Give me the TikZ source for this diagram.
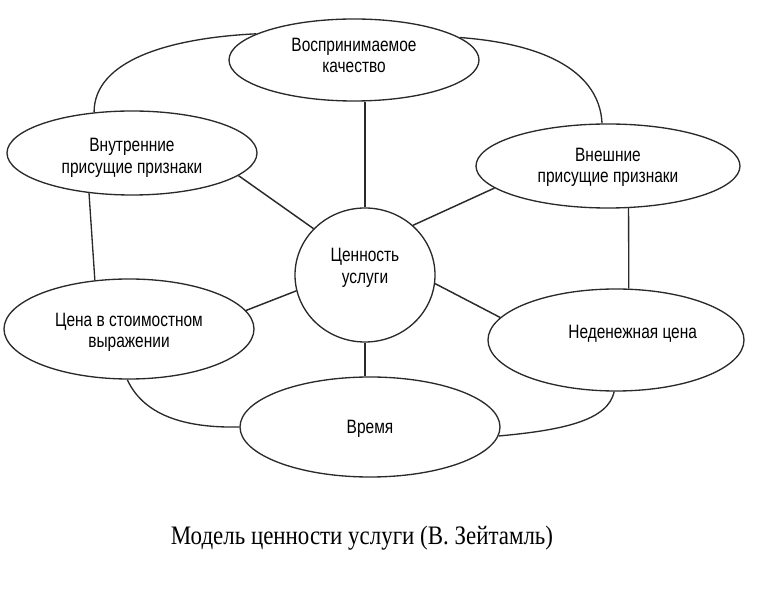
\documentclass[tikz,border=0pt]{standalone}
\usepackage{fontspec}
\setmainfont{Liberation Serif}[FakeStretch=0.86]
\newfontfamily\labelfont{Liberation Sans}[FakeStretch=0.8]
\usetikzlibrary{shapes.geometric}
\definecolor{ink}{HTML}{2A2A2A}
% raise the text inside an ellipse without resizing it
\newcommand{\lift}[2]{\raisebox{#1}[\height][\depth]{\begin{tabular}{@{}c@{}}#2\end{tabular}}}

\begin{document}
\begin{tikzpicture}[x=0.75pt,y=-0.75pt,
  bubble/.style={draw=ink,ellipse,line width=1pt,inner sep=0pt,align=center,
    font=\labelfont\fontsize{14.5}{16}\selectfont},
  spoke/.style={draw=ink,line width=1.1pt},
  ring/.style={draw=ink,line width=1pt},
]
  \useasboundingbox (0,0) rectangle (761,609);

  \node[bubble,minimum width=187.5pt,minimum height=61.5pt] (qual) at (354,60) {\lift{1.5pt}{Воспринимаемое\\качество}};
  \node[bubble,minimum width=187.5pt,minimum height=63pt] (inner) at (132,153) {\lift{-4pt}{Внутренние\\присущие признаки}};
  \node[bubble,minimum width=198pt,minimum height=63pt] (outer) at (608,166) {\lift{-1.5pt}{Внешние\\присущие признаки}};
  \node[bubble,minimum width=105pt,minimum height=100.5pt] (value) at (365,275) {\lift{5pt}{Ценность\\услуги}};
  \node[bubble,minimum width=187.5pt,minimum height=75pt] (money) at (129,329) {\lift{-3pt}{Цена в стоимостном\\выражении}};
  \node[bubble,minimum width=192pt,minimum height=76.5pt] (nonmoney) at (616,340) {\lift{4.5pt}{\hspace*{25pt}Неденежная цена}};
  \node[bubble,minimum width=195pt,minimum height=75pt] (time) at (370,427) {\lift{-2pt}{Время}};

  % spokes
  \draw[spoke] (value.north) -- (value.north |- qual.south);
  \draw[spoke] (inner.-12) -- (value.138);
  \draw[spoke] (outer.-169) -- (value.46);
  \draw[spoke] (money.9) -- (value.-167);
  \draw[spoke] (nonmoney.169) -- (value.-7);
  \draw[spoke] (value.south) -- (value.south |- time.north);

  % outer ring
  \draw[ring] (qual.165) .. controls (170,38) and (94,60) .. (inner.133);
  \draw[ring] (qual.12) .. controls (560,45) and (600,80) .. (outer.98);
  \draw[ring] (inner.-137) -- (money.125);
  \draw[ring] (outer.-64) -- (nonmoney.76);
  \draw[ring] (money.-92) .. controls (145,418) and (190,428) .. (time.180);
  \draw[ring] (time.-4) .. controls (565,430) and (608,420) .. (nonmoney.-92);

  \node[font=\fontsize{20}{22}\selectfont] (caption) at (362,538) {Модель ценности услуги (В. Зейтамль)};
\end{tikzpicture}
\end{document}
